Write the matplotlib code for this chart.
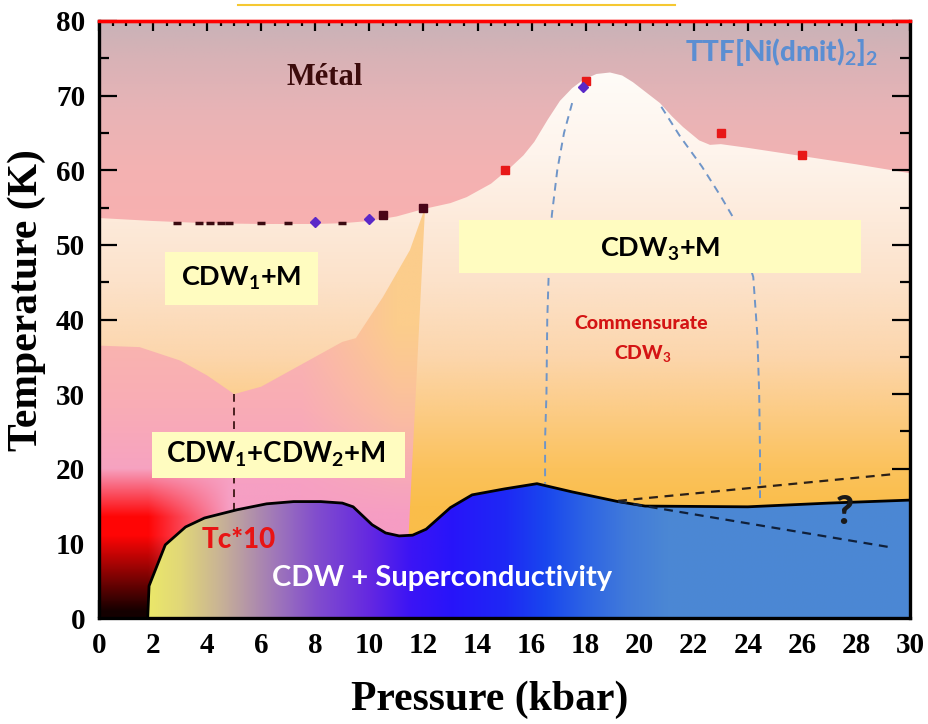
# Phase diagram of TTF[Ni(dmit)2]2 under pressure

import numpy as np
import matplotlib.pyplot as plt
from matplotlib.patches import Polygon, Rectangle
from matplotlib.lines import Line2D

plt.rcParams['mathtext.fontset'] = 'custom'
plt.rcParams['mathtext.rm'] = 'Lato:bold'
plt.rcParams['mathtext.it'] = 'Lato:bold:italic'
plt.rcParams['mathtext.bf'] = 'Lato:bold'

# --- data (pressure in kbar, temperature in K) ---

# metal / CDW boundary
metal_p = [0, 2, 4, 6, 8, 9, 10, 11, 12, 13, 13.6, 14.5, 15.2, 15.7, 16.1, 16.6, 17.05,
           17.5, 17.9, 18.4, 18.9, 19.35, 19.75, 20.25, 20.75, 21.2, 21.6, 22.2, 22.6,
           23, 24, 26, 28, 30]
metal_t = [53.6, 53.2, 52.9, 52.8, 52.8, 52.9, 53.2, 53.8, 54.8, 55.6, 56.4, 58.2, 60.3,
           62.0, 63.8, 66.8, 69.3, 71.0, 72.1, 72.9, 73.1, 72.7, 71.8, 70.4, 69.0, 67.2,
           65.8, 64.0, 63.4, 63.5, 63.0, 61.9, 60.8, 59.6]

# CDW1+M / CDW1+CDW2+M boundary
cdw2_p = [0, 1.5, 3, 4, 5, 6, 7, 8, 9, 9.5, 10.5, 11.5, 12.06]
cdw2_t = [36.5, 36.3, 34.5, 32.5, 30, 31, 33, 35, 37, 37.5, 43, 49.3, 55]
cdw2_bottom_p = 11.45
cdw2_bottom_t = 11

# superconducting Tc*10 line
sc_p = [1.8, 1.85, 2.45, 3.2, 3.9, 5.1, 6.2, 7.2, 8.2, 9.0, 9.4, 10.1, 10.6, 11.1, 11.6,
        12.1, 13.0, 13.8, 15.0, 16.2, 17.5, 19.2, 20.2, 24.0, 27.0, 30.0]
sc_t = [0, 4.3, 9.8, 12.2, 13.4, 14.5, 15.3, 15.6, 15.6, 15.4, 14.9, 12.5, 11.4, 11.0, 11.1,
        11.9, 14.8, 16.5, 17.3, 18.0, 16.9, 15.6, 15.0, 14.9, 15.4, 15.8]

# commensurate CDW3 dome (dashed)
dome_left_p = [17.5, 17.2, 16.95, 16.75, 16.65, 16.58, 16.55, 16.5, 16.5]
dome_left_t = [69, 65, 60, 54, 48, 40, 30, 24, 18]
dome_right_p = [20.8, 21.5, 22.3, 23.0, 23.5, 24.0, 24.2, 24.35, 24.42, 24.45, 24.45]
dome_right_t = [68.5, 64.5, 60.5, 56.5, 53.4, 48, 45.7, 38, 30, 22, 15.4]

# uncertain high-pressure lines
upper_dash_p = [19.2, 29.45]
upper_dash_t = [15.7, 19.3]
lower_dash_p = [19.2, 29.4]
lower_dash_t = [15.6, 9.4]
cdw12_dash_p = [5.0, 5.0]
cdw12_dash_t = [30, 14.5]

# measured points
red_p = [15, 18, 23, 26]
red_t = [60, 72, 65, 62]
dark_p = [10.5, 12]
dark_t = [54, 55]
small_p = [2.9, 3.7, 4.1, 4.5, 4.8, 6.0, 7.0, 9.0]
small_t = [52.9, 52.9, 52.9, 52.9, 52.9, 52.9, 52.9, 52.9]
diam_p = [8, 10, 17.9]
diam_t = [53.1, 53.5, 71.2]

# --- figure ---
fig = plt.figure(figsize=(9.29, 7.24), dpi=100)
ax = fig.add_axes([0.1066, 0.1464, 0.873, 0.8246])
ax.set_xlim(0, 30)
ax.set_ylim(0, 80)

nx, ny = 900, 700
X, T = np.meshgrid(np.linspace(0, 30, nx), np.linspace(0, 80, ny))


def grad(v, stops, rgbs):
    rgbs = np.array(rgbs) / 255.0
    return np.stack([np.interp(v, stops, rgbs[:, k]) for k in range(3)], axis=-1)


def show(img, poly_xy=None, z=1):
    im = ax.imshow(img, origin='lower', extent=(0, 30, 0, 80), aspect='auto',
                   interpolation='bilinear', zorder=z)
    if poly_xy is not None:
        patch = Polygon(poly_xy, closed=True, facecolor='none', edgecolor='none',
                        transform=ax.transData)
        ax.add_patch(patch)
        im.set_clip_path(patch)
    return im


# metal background
metal_img = grad(T, [0, 53, 60, 68, 75, 80],
                 [(248, 176, 176), (248, 176, 176), (244, 178, 178), (232, 180, 182),
                  (216, 178, 182), (200, 178, 184)])
show(metal_img, None, 0)

# CDW region under the metal line
cdw_img = grad(T, [0, 15, 20, 27, 35, 45, 53, 62, 73, 80],
               [(250, 188, 70), (250, 190, 75), (251, 194, 92), (252, 203, 130),
                (252, 214, 172), (252, 226, 202), (253, 234, 218), (254, 244, 236),
                (255, 252, 248), (255, 253, 250)])
cdw_poly = list(zip(metal_p, metal_t)) + [(30, 0), (0, 0)]
show(cdw_img, cdw_poly, 1)

# CDW1+CDW2+M region (pink, red/black at low P)
pink = grad(T, [10, 18, 28, 37],
            [(246, 155, 195), (246, 160, 195), (249, 172, 182), (250, 180, 175)])
orange = np.array([252, 205, 140]) / 255.0
w_o = (np.clip((X - 7.5) / 3.5, 0, 1) * np.clip((T - 14) / 25, 0, 1))[..., None]
col = pink * (1 - w_o) + orange * w_o
red = np.array([1.0, 0.02, 0.02])
w_r = (np.clip((20 - T) / 6.5, 0, 1) * np.clip((4.8 - X) / 3.0, 0, 1))[..., None]
col = col * (1 - w_r) + red * w_r
dark = np.clip(T / 11, 0.08, 1)[..., None]
col = col * (1 - w_r * (1 - dark))
pink_poly = list(zip(cdw2_p, cdw2_t)) + [(cdw2_bottom_p, cdw2_bottom_t),
                                         (cdw2_bottom_p, 0), (0, 0)]
show(col, pink_poly, 2)

# superconducting region
sc_img = grad(X, [1.8, 3.0, 4.5, 6.5, 8, 10, 11.5, 13, 15, 16.5, 18, 19.5, 21, 30],
              [(235, 232, 105), (225, 215, 120), (200, 178, 150), (160, 120, 185),
               (130, 78, 205), (100, 40, 225), (60, 20, 245), (40, 20, 250),
               (30, 40, 245), (25, 70, 238), (45, 100, 228), (65, 122, 218),
               (75, 135, 212), (76, 136, 212)])
sc_poly = list(zip(sc_p, sc_t)) + [(30, 0)]
show(sc_img, sc_poly, 3)
ax.plot(sc_p, sc_t, color='black', lw=2, zorder=6, solid_joinstyle='round')

# dashed lines
ax.plot(dome_left_p, dome_left_t, ls=(0, (4, 3)), color='#6f95c8', lw=1.4, zorder=4)
ax.plot(dome_right_p, dome_right_t, ls=(0, (4, 3)), color='#6f95c8', lw=1.4, zorder=4)
ax.plot(upper_dash_p, upper_dash_t, ls=(0, (4, 3)), color='#2b2018', lw=1.6, zorder=6)
ax.plot(lower_dash_p, lower_dash_t, ls=(0, (4, 3)), color='#10203a', lw=1.6, zorder=6)
ax.plot(cdw12_dash_p, cdw12_dash_t, ls=(0, (4, 3)), color='#4a2020', lw=1.4, zorder=4)

# label boxes
box_col = '#fffcc0'
for (x0, x1, y0, y1) in [(2.45, 8.1, 42.0, 49.0), (1.95, 11.3, 18.8, 24.9),
                         (13.3, 28.2, 46.2, 53.3)]:
    ax.add_patch(Rectangle((x0, y0), x1 - x0, y1 - y0, facecolor=box_col,
                           edgecolor='none', zorder=5))

# markers
ax.plot(small_p, small_t, ls='none', marker='_', ms=6, mew=2.5, color='#3a0a10', zorder=7)
ax.plot(dark_p, dark_t, ls='none', marker='s', ms=5.5, color='#4a0418', zorder=7)
ax.plot(red_p, red_t, ls='none', marker='s', ms=5.5, color='#e81818', zorder=7)
ax.plot(diam_p, diam_t, ls='none', marker='D', ms=5, color='#5a28c8', zorder=7)

# texts
sans = 'Lato'
heavy = 900
ax.text(8.36, 72.4, 'Métal', family='Liberation Serif', weight='bold', fontsize=22,
        color='#3c0c0c', ha='center', va='center', zorder=8)
ax.text(25.25, 75.9, r'TTF[Ni(dmit)$_{\mathit{2}}$]$_{\mathit{2}}$', family=sans,
        weight=heavy, fontsize=20, color='#5b8ed2', ha='center', va='center', zorder=8)
ax.text(5.27, 45.5, r'CDW$_1$+M', family=sans, weight='bold', fontsize=19.5,
        color='black', ha='center', va='center', zorder=8)
ax.text(6.55, 21.9, r'CDW$_1$+CDW$_2$+M', family=sans, weight='bold', fontsize=20,
        color='black', ha='center', va='center', zorder=8)
ax.text(20.75, 49.4, r'CDW$_3$+M', family=sans, weight='bold', fontsize=19.5,
        color='black', ha='center', va='center', zorder=8)
ax.text(20.05, 39.5, 'Commensurate', family=sans, weight=heavy, fontsize=14,
        color='#d41414', ha='center', va='center', zorder=8)
ax.text(20.1, 35.5, r'CDW$_3$', family=sans, weight=heavy, fontsize=14,
        color='#d41414', ha='center', va='center', zorder=8)
ax.text(5.18, 10.5, 'Tc*10', family=sans, weight=heavy, fontsize=20,
        color='#e81414', ha='center', va='center', zorder=8)
ax.text(12.7, 5.4, 'CDW + Superconductivity', family=sans, weight='bold', fontsize=21,
        color='white', ha='center', va='center', zorder=8)
ax.text(27.6, 14.2, '?', family=sans, weight=heavy, fontsize=28,
        color='#1a1a1a', ha='center', va='center', zorder=8)

# axes styling
for side in ['left', 'right', 'bottom']:
    ax.spines[side].set_linewidth(2.4)
    ax.spines[side].set_color('black')
ax.spines['top'].set_linewidth(2.4)
ax.spines['top'].set_color('red')
for s in ax.spines.values():
    s.set_zorder(10)

ax.set_xticks(np.arange(0, 31, 2))
ax.set_xticks(np.arange(0, 30.1, 0.5), minor=True)
ax.set_yticks(np.arange(0, 81, 10))
ax.set_yticks(np.arange(0, 81, 5), minor=True)
ax.tick_params(which='both', direction='in', top=False, right=True, width=1.6,
               labelsize=21, pad=10)
ax.tick_params(which='major', length=13)
ax.tick_params(which='minor', length=7)
for lab in ax.get_xticklabels() + ax.get_yticklabels():
    lab.set_family('Liberation Serif')
    lab.set_fontweight('bold')

top = ax.secondary_xaxis('top')
top.set_xticks(np.arange(0, 31, 2))
top.set_xticks(np.arange(0, 30.1, 0.5), minor=True)
top.tick_params(which='both', direction='in', labeltop=False, width=1.6)
top.tick_params(which='major', length=7)
top.tick_params(which='minor', length=3.5)
top.spines['top'].set_color('red')
top.spines['top'].set_linewidth(2.4)

ax.set_xlabel('Pressure (kbar)', family='Liberation Serif', fontweight='bold', fontsize=30)
ax.set_ylabel('Temperature (K)', family='Liberation Serif', fontweight='bold', fontsize=30)
ax.xaxis.set_label_coords(0.482, -0.105)
ax.yaxis.set_label_coords(-0.066, 0.533)

# thin yellow line above the frame
fig.add_artist(Line2D([238 / 929, 675 / 929], [1 - 5 / 724, 1 - 5 / 724],
                      color='#f5c832', lw=1.5))

fig.savefig('out.png', dpi=100)
